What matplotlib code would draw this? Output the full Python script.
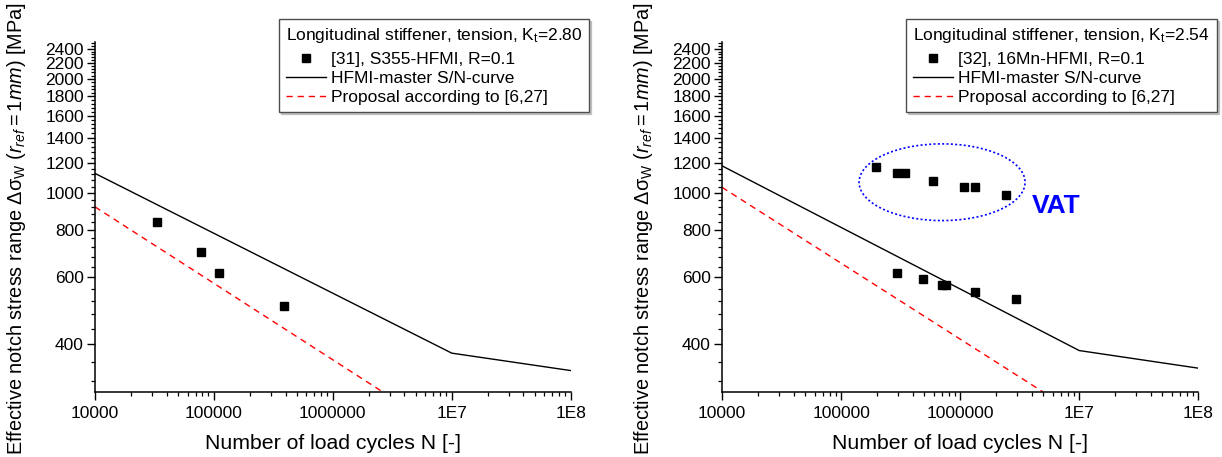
import numpy as np
import matplotlib
matplotlib.use("Agg")
import matplotlib.pyplot as plt
from matplotlib.ticker import FixedLocator, FixedFormatter, NullFormatter
from matplotlib.lines import Line2D
from matplotlib.patches import Ellipse

plt.rcParams["font.family"] = ["Liberation Sans", "DejaVu Sans"]
plt.rcParams["mathtext.fontset"] = "custom"
plt.rcParams["mathtext.rm"] = "Liberation Sans"
plt.rcParams["mathtext.it"] = "Liberation Sans:italic"
plt.rcParams["mathtext.bf"] = "Liberation Sans:bold"

# left panel: [31], S355-HFMI
n_31 = [3.30e4, 7.8e4, 1.10e5, 3.9e5]
s_31 = [840, 700, 616, 504]
master_n_left = [1e4, 1e7, 1e8]
master_s_left = [1127, 379, 341]
prop_n_left = [1e4, 2.61e6]
prop_s_left = [920, 300]

# right panel: [32], 16Mn-HFMI
n_32 = [1.96e5, 2.96e5, 3.44e5, 5.94e5, 1.07e6, 1.32e6, 2.45e6,
        2.94e5, 4.84e5, 7.0e5, 7.6e5, 1.32e6, 2.93e6]
s_32 = [1173, 1131, 1131, 1076, 1037, 1037, 990,
        617, 595, 572, 572, 549, 526]
master_n_right = [1e4, 1e7, 1e8]
master_s_right = [1180, 385, 346]
prop_n_right = [1e4, 4.93e6]
prop_s_right = [1036, 300]

x_ticks = [1e4, 1e5, 1e6, 1e7, 1e8]
x_labels = ["10000", "100000", "1000000", "1E7", "1E8"]
y_ticks = list(range(400, 2401, 200))
y_minor = [v for v in range(320, 2500, 40) if v not in y_ticks]

ylabel = ("Effective notch stress range Δσ$_\\mathrm{W}$ "
          "($\\mathit{r}_{\\mathit{ref}}\\mathit{=1mm}$) [MPa]")

fig = plt.figure(figsize=(12.22, 4.57), dpi=100)
W, H = 1222, 457
panels = [
    (95, 570.7, n_31, s_31, master_n_left, master_s_left, prop_n_left, prop_s_left,
     "[31], S355-HFMI, R=0.1", "2.80", 589.3),
    (722, 1198.3, n_32, s_32, master_n_right, master_s_right, prop_n_right, prop_s_right,
     "[32], 16Mn-HFMI, R=0.1", "2.54", 1216.7),
]

axes = []
for (x0, x1, n, s, mn, ms, pn, ps, lab, kt, leg_r) in panels:
    ax = fig.add_axes([x0 / W, 1 - 391.7 / H, (x1 - x0) / W, (391.7 - 42) / H])
    axes.append(ax)
    ax.set_xscale("log")
    ax.set_yscale("log")
    ax.plot(mn, ms, color="black", lw=1.0)
    ax.plot(pn, ps, color="red", lw=1.0, ls=(0, (4.5, 3.5)))
    ax.plot(n, s, ls="none", marker="s", ms=5.3, color="black")
    ax.set_xlim(1e4, 1e8)
    ax.set_ylim(300, 2500)

    ax.xaxis.set_major_locator(FixedLocator(x_ticks))
    ax.xaxis.set_major_formatter(FixedFormatter(x_labels))
    ax.xaxis.set_minor_locator(FixedLocator(
        [m * 10 ** e for e in range(4, 8) for m in range(2, 10)]))
    ax.xaxis.set_minor_formatter(NullFormatter())
    ax.yaxis.set_major_locator(FixedLocator(y_ticks))
    ax.yaxis.set_major_formatter(FixedFormatter([str(v) for v in y_ticks]))
    ax.yaxis.set_minor_locator(FixedLocator(y_minor))
    ax.yaxis.set_minor_formatter(NullFormatter())

    for side in ("top", "right"):
        ax.spines[side].set_visible(False)
    for side in ("left", "bottom"):
        ax.spines[side].set_linewidth(1.1)
    ax.tick_params(which="major", direction="out", length=6, width=1.0,
                   labelsize=12.5, pad=4)
    ax.tick_params(which="minor", direction="out", length=3, width=0.9)
    ax.tick_params(axis="y", which="major", labelsize=12.5, pad=2)

    ax.set_xlabel("Number of load cycles N [-]", fontsize=15.3)
    ax.xaxis.set_label_coords(0.5, -0.122)
    ax.set_ylabel(ylabel, fontsize=14.3, va="center")
    ax.yaxis.set_label_coords(-0.165, 0.465)

    handles = [
        Line2D([], [], ls="none", marker="s", ms=5.3, color="black"),
        Line2D([], [], color="black", lw=1.0),
        Line2D([], [], color="red", lw=1.0, ls=(0, (4.5, 3.5))),
    ]
    labels = [lab, "HFMI-master S/N-curve", "Proposal according to [6,27]"]
    leg = ax.legend(handles, labels,
                    title="Longitudinal stiffener, tension, K$_\\mathrm{t}$=" + kt,
                    loc="upper right", bbox_to_anchor=(leg_r / W, 1 - 19 / H),
                    bbox_transform=fig.transFigure, fontsize=12.5,
                    title_fontsize=12.5, alignment="left", fancybox=False,
                    edgecolor="0.3", framealpha=1, borderpad=0.4,
                    labelspacing=0.22, handlelength=2.3, handletextpad=0.3,
                    borderaxespad=0, shadow={"color": "0.6", "ox": 1.5, "oy": -1.5})
    leg.get_frame().set_linewidth(1.0)
    leg._legend_box.sep = 5

# VAT group marker on the right panel
axr = axes[1]
axr.add_patch(Ellipse((0.462, 0.599), 0.3485, 0.2193, transform=axr.transAxes,
                      fill=False, edgecolor="blue", lw=1.2, ls=(0, (1.2, 1.4))))
axr.text(0.651, 0.53, "VAT", transform=axr.transAxes, color="blue",
         fontsize=19, fontweight="bold", ha="left", va="center")

fig.savefig("out.png", dpi=100)
